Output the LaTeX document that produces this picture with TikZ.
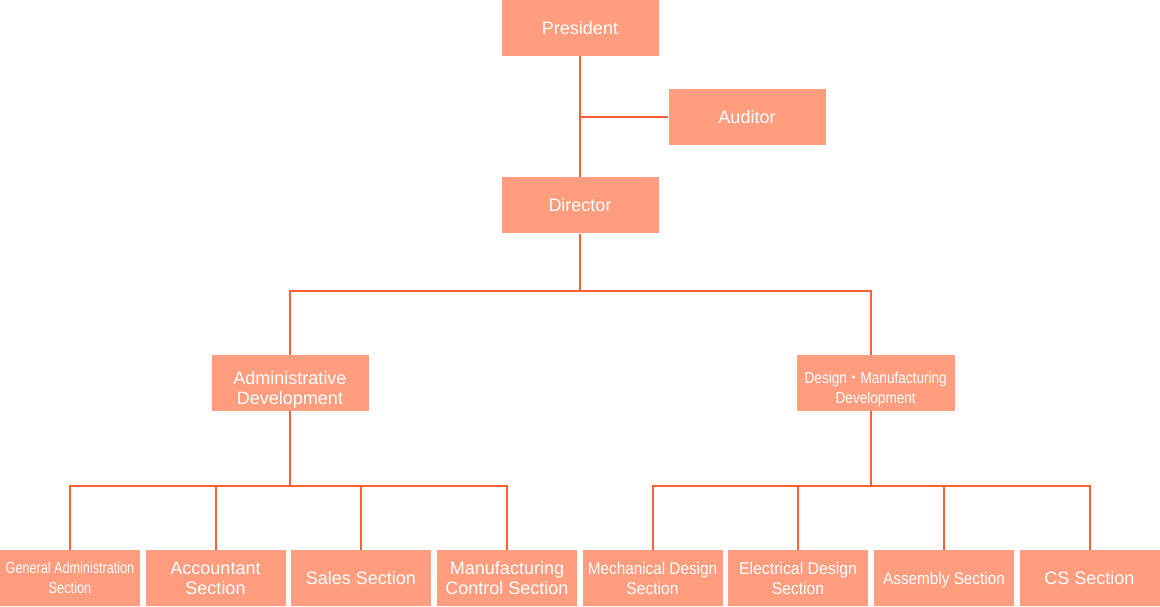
\documentclass[tikz,border=0pt]{standalone}
\usepackage{fontspec}
\setmainfont{Liberation Sans}
\newfontfamily\cjkfont{Noto Sans CJK JP}
\definecolor{boxfill}{HTML}{FF9D7E}
\definecolor{linec}{HTML}{FF6230}
\begin{document}
\begin{tikzpicture}[x=1pt,y=-1pt,
  box/.style={fill=boxfill, draw=none, text=white, inner sep=0pt,
    minimum width=157pt, minimum height=56pt,
    font=\fontsize{18}{20}\selectfont},
  bot/.style={box, minimum width=140pt},
  multi/.style={align=center},
  single/.style={text depth=0pt},
  conn/.style={draw=linec, line width=2pt}]
\useasboundingbox (0,0) rectangle (1160,607);

% top
\node[box, single] (pres) at (580,28) {President};
\node[box, single] (aud) at (747,116.7) {Auditor};
\node[box, single] (dir) at (580,205.3) {Director};

% middle
\node[box, multi] (adm) at (290,383.2) {\rule{0pt}{26pt}Administrative\\Development};
\node[box, multi, minimum width=158pt, font=\fontsize{16}{20}\selectfont] (dsn) at (875.7,383.2)
  {\rule{0pt}{24pt}\scalebox{0.85}[1]{Design{\cjkfont ・}Manufacturing}\\\scalebox{0.85}[1]{Development}};

% bottom
\node[bot, multi, font=\fontsize{16}{20}\selectfont] (ga) at (70,578)
  {\scalebox{0.79}[1]{General Administration}\\\scalebox{0.8}[1]{Section}};
\node[bot, multi] (acc) at (215.5,578) {Accountant\\Section};
\node[bot, single] (sal) at (361,578) {Sales Section};
\node[bot, multi] (mfc) at (507,578) {Manufacturing\\Control Section};
\node[bot, multi, font=\fontsize{17}{20}\selectfont] (mec) at (652.5,578)
  {\scalebox{0.9}[1]{Mechanical Design}\\\scalebox{0.92}[1]{Section}};
\node[bot, multi, font=\fontsize{17}{20}\selectfont] (ele) at (798,578)
  {\scalebox{0.93}[1]{Electrical Design}\\\scalebox{0.92}[1]{Section}};
\node[bot, single, font=\fontsize{17}{20}\selectfont] (asm) at (944,578)
  {\scalebox{0.9}[1]{Assembly Section}};
\node[bot, single] (cs) at (1089.5,578) {CS Section};

% junction coordinates
\coordinate (topJ) at (580,291);
\coordinate (busL) at (290,486);
\coordinate (busR) at (871,486);

% connectors
\draw[conn] (pres.south) -- (dir.north);
\draw[conn] (aud.west) -- (aud.west -| pres.south);
\draw[conn] (dir.south) -- (topJ);
\draw[conn] (adm.north) |- (topJ);
\draw[conn] (topJ) -| (busR |- dsn.north);
\draw[conn] (adm.south) -- (busL);
\draw[conn] (busR |- dsn.south) -- (busR);
\foreach \n in {ga,acc,sal,mfc} \draw[conn] (\n.north) |- (busL);
\foreach \n in {mec,ele,asm,cs} \draw[conn] (\n.north) |- (busR);
\end{tikzpicture}
\end{document}
